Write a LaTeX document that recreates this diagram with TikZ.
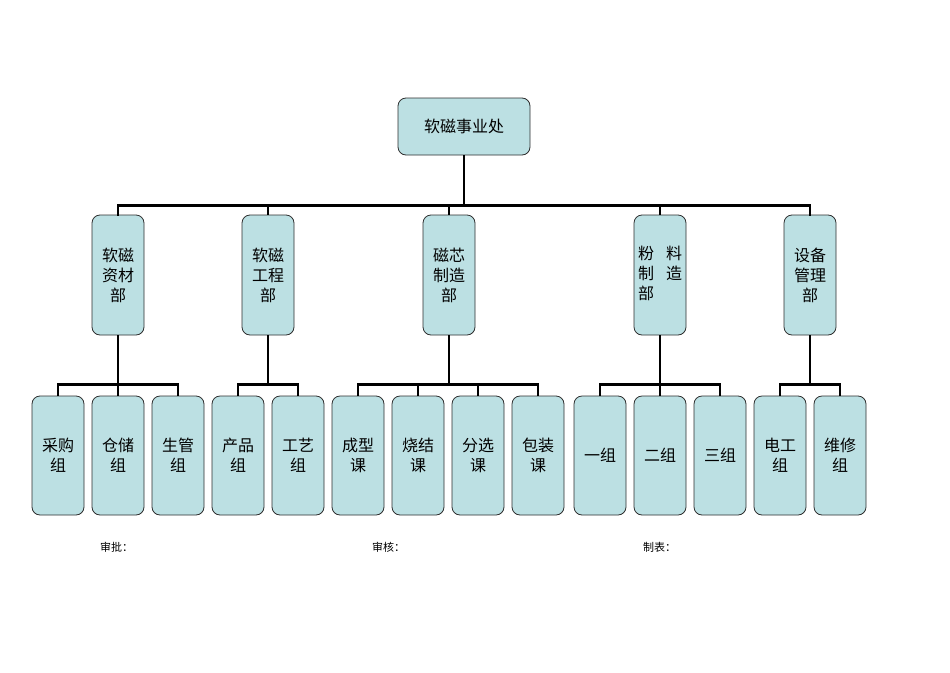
\documentclass[tikz,border=0pt]{standalone}
\usepackage{fontspec}
\newfontfamily\cjk{Noto Sans CJK SC}
\definecolor{boxfill}{HTML}{BCE0E3}
\definecolor{boxline}{HTML}{2E2E2E}
\begin{document}
\begin{tikzpicture}[x=1pt,y=-1pt,
  orgbox/.style={draw=boxline,fill=boxfill,rounded corners=8pt,line width=0.8pt,
    align=center,inner sep=0pt,font=\cjk\fontsize{16}{20}\selectfont},
  topbox/.style={orgbox,minimum width=132pt,minimum height=57pt},
  midbox/.style={orgbox,minimum width=52pt,minimum height=120pt},
  lowbox/.style={orgbox,minimum width=52pt,minimum height=119pt},
  conn/.style={line width=2.8pt,draw=black},
  foot/.style={font=\cjk\fontsize{11}{13}\selectfont,inner sep=0pt}]
\useasboundingbox (0,0) rectangle (950,672);
% top
\node[topbox] (top) at (464,126.5) {软磁事业处};
% middle
\node[midbox] (m1) at (118,275) {软磁\\资材\\部};
\node[midbox] (m2) at (268,275) {软磁\\工程\\部};
\node[midbox] (m3) at (449,275) {磁芯\\制造\\部};
\node[midbox] (m4) at (660,275) {\begin{tabular}{@{}l@{\hspace{12pt}}l@{}}粉&料\\制&造\\部&\end{tabular}};
\node[midbox] (m5) at (810,275) {设备\\管理\\部};
% bottom
\node[lowbox] (b1) at (58,455.5) {采购\\组};
\node[lowbox] (b2) at (118,455.5) {仓储\\组};
\node[lowbox] (b3) at (178,455.5) {生管\\组};
\node[lowbox] (b4) at (238,455.5) {产品\\组};
\node[lowbox] (b5) at (298,455.5) {工艺\\组};
\node[lowbox] (b6) at (358,455.5) {成型\\课};
\node[lowbox] (b7) at (418,455.5) {烧结\\课};
\node[lowbox] (b8) at (478,455.5) {分选\\课};
\node[lowbox] (b9) at (538,455.5) {包装\\课};
\node[lowbox] (b10) at (600,455.5) {一组};
\node[lowbox] (b11) at (660,455.5) {二组};
\node[lowbox] (b12) at (720,455.5) {三组};
\node[lowbox] (b13) at (780,455.5) {电工\\组};
\node[lowbox] (b14) at (840,455.5) {维修\\组};
% connectors top -> middle
\coordinate (tb) at (464,205.5);
\draw[conn] (top.south) -- (tb);
\draw[conn,line cap=rect] (m1.north) |- (m5.north |- tb) -- (m5.north);
\foreach \m in {m2,m3,m4} \draw[conn] (\m.north) -- (\m.north |- tb);
% middle -> bottom
\coordinate (lb) at (0,384.5);
\draw[conn] (m1.south) -- (b2.north);
\draw[conn] (b1.north) |- (b3.north |- lb) -- (b3.north);
\draw[conn] (m2.south) -- (m2.south |- lb);
\draw[conn] (b4.north) |- (b5.north |- lb) -- (b5.north);
\draw[conn] (m3.south) -- (m3.south |- lb);
\draw[conn] (b6.north) |- (b9.north |- lb) -- (b9.north);
\draw[conn] (b7.north) -- (b7.north |- lb);
\draw[conn] (b8.north) -- (b8.north |- lb);
\draw[conn] (m4.south) -- (b11.north);
\draw[conn] (b10.north) |- (b12.north |- lb) -- (b12.north);
\draw[conn] (m5.south) -- (m5.south |- lb);
\draw[conn] (b13.north) |- (b14.north |- lb) -- (b14.north);
% footer
\node[foot,anchor=west] (f1) at (100,547) {审批：};
\node[foot,anchor=west] (f2) at (372,547) {审核：};
\node[foot,anchor=west] (f3) at (643,547) {制表：};
\end{tikzpicture}
\end{document}
